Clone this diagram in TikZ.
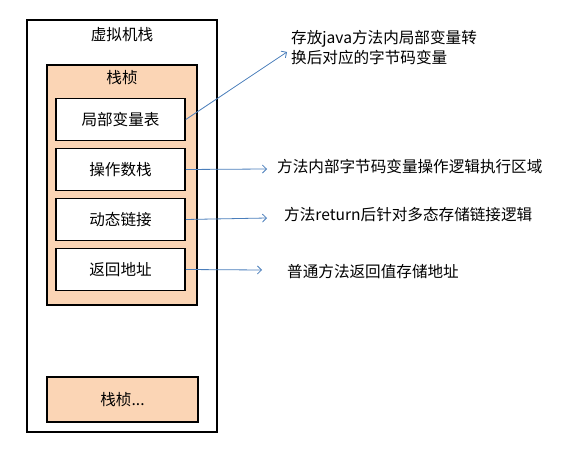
\documentclass[tikz,border=0pt]{standalone}
\usepackage{fontspec}
\setmainfont{Noto Sans CJK SC}
\usepackage{xcolor}
\usetikzlibrary{arrows.meta}
\definecolor{framefill}{RGB}{251,213,181}
\definecolor{arrowblue}{RGB}{74,126,187}
\newcommand{\slotwidth}{129bp}
\newcommand{\slotheight}{42bp}

\begin{document}
\begin{tikzpicture}[x=1bp,y=-1bp,font=\fontsize{15.6bp}{20bp}\selectfont]
                \useasboundingbox (0,0) rectangle (572,454);
                \begin{scope}[every node/.style={rectangle,draw,line width=1.6bp,inner sep=0pt}]
                    \node[minimum width=190bp,minimum height=412bp] (vm) at (122,226) {};
                    \node[fill=framefill,minimum width=150bp,minimum height=240bp] (frame) at (122,185) {};
                    \node[fill=framefill,minimum width=151bp,minimum height=45bp] (nextframe) at (122.5,399.5) {栈桢...};
                \end{scope}

                \node (vmtitle) at (122,35) {虚拟机栈};
                \node (frametitle) at (122,78) {栈桢};

                \begin{scope}[every node/.style={rectangle,draw,fill=white,line width=1.6bp,minimum width=\slotwidth,minimum height=\slotheight}]
                    \node (locals) at (120.5,119.5) {局部变量表};
                    \node (opstack) at (120.5,169.5) {操作数栈};
                    \node (dynlink) at (120.5,219.5) {动态链接};
                    \node (retaddr) at (120.5,269.5) {返回地址};
                \end{scope}

                \coordinate (c1) at (287,52);
                \coordinate (c2) at (267,169);
                \coordinate (c3) at (267,218);
                \coordinate (c4) at (262,270);

                \begin{scope}[every node/.style={anchor=west,inner sep=0pt,align=left}]
                    \node (t1) at (291,48) {存放java方法内局部变量转\\换后对应的字节码变量};
                    \node (t2) at (277,167) {方法内部字节码变量操作逻辑执行区域};
                    \node (t3) at (284,215) {方法return后针对多态存储链接逻辑};
                    \node (t4) at (287,272) {普通方法返回值存储地址};
                \end{scope}

                \begin{scope}[>={Straight Barb[length=4bp,width=8bp]},
                    every edge/.style={draw=arrowblue,line width=0.8bp}]
                    \path [->] (locals.east) edge (c1);
                    \path [->] (opstack.east) edge (c2);
                    \path [->] (dynlink.east) edge (c3);
                    \path [->] (retaddr.east) edge (c4);
                \end{scope}
            \end{tikzpicture}
\end{document}
